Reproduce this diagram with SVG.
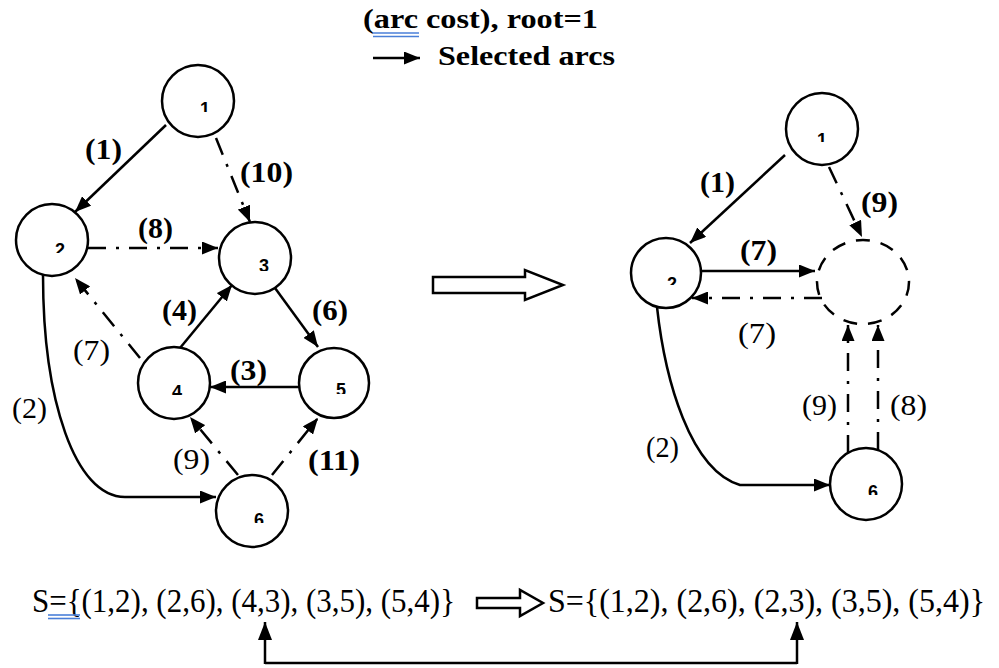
<svg xmlns="http://www.w3.org/2000/svg" width="999" height="668" viewBox="0 0 999 668">
<style>
.nd{fill:#fff;stroke:#000;stroke-width:2.5}
.dn{fill:none;stroke:#000;stroke-width:2.5;stroke-dasharray:14 11}
.s{fill:none;stroke:#000;stroke-width:2.5;marker-end:url(#ah)}
.d{fill:none;stroke:#000;stroke-width:2.5;stroke-dasharray:18 10 3 10;marker-end:url(#ah)}
.lb{font-family:"Liberation Serif",serif;font-size:29px;font-weight:bold;fill:#000}
.ln{font-family:"Liberation Serif",serif;font-size:29px;font-weight:normal;fill:#000}
.nl{font-family:"Liberation Sans",sans-serif;font-size:18px;font-weight:bold;fill:#000;text-anchor:middle}
.tt{font-family:"Liberation Serif",serif;font-size:28px;font-weight:bold;fill:#000}
.st{font-family:"Liberation Serif",serif;font-size:33px;fill:#000}
.ho{fill:#fff;stroke:#000;stroke-width:2.5}
.bl{stroke:#4a7fd8;stroke-width:1.6}
</style>
<defs>
<marker id="ah" markerUnits="userSpaceOnUse" markerWidth="16" markerHeight="13" refX="16" refY="6.5" orient="auto"><path d="M0,0 L16,6.5 L0,13 z" fill="#000"/></marker>
<marker id="ab" markerUnits="userSpaceOnUse" markerWidth="18" markerHeight="14" refX="18" refY="7" orient="auto"><path d="M0,0 L18,7 L0,14 z" fill="#000"/></marker>
<clipPath id="k1"><rect x="190" y="100" width="30" height="12"/></clipPath>
<clipPath id="k2"><rect x="45" y="241" width="30" height="12"/></clipPath>
<clipPath id="k3"><rect x="248" y="257" width="30" height="14"/></clipPath>
<clipPath id="k4"><rect x="162" y="383" width="30" height="12"/></clipPath>
<clipPath id="k5"><rect x="326" y="381" width="30" height="13"/></clipPath>
<clipPath id="k6"><rect x="244" y="511" width="30" height="12"/></clipPath>
<clipPath id="r1"><rect x="807" y="131" width="30" height="11"/></clipPath>
<clipPath id="r2"><rect x="657" y="275" width="30" height="10"/></clipPath>
<clipPath id="r6"><rect x="858" y="483" width="30" height="12"/></clipPath>
</defs>
<rect width="999" height="668" fill="#fff"/>

<g id="legend">
<text class="tt" x="363" y="28" textLength="235" lengthAdjust="spacingAndGlyphs">(arc cost), root=1</text>
<line class="bl" x1="373" y1="33" x2="419" y2="33"/>
<line class="bl" x1="373" y1="36.5" x2="419" y2="36.5"/>
<line x1="373" y1="58" x2="420" y2="58" stroke="#000" stroke-width="2.5" marker-end="url(#ah)"/>
<text class="tt" x="438" y="65" textLength="177" lengthAdjust="spacingAndGlyphs">Selected arcs</text>
</g>

<g id="connectors">
<path class="s" d="M166,125 L75,212"/>
<path class="d" d="M216,138 L250,222"/>
<path class="d" d="M88,248 L218,248"/>
<path class="d" d="M140,358 L75,278"/>
<path class="s" d="M180,348 L232,285"/>
<path class="s" d="M275,288 L318,347"/>
<path class="s" d="M300,387 L210,387"/>
<path class="d" d="M238,475 L190,417"/>
<path class="d" d="M272,475 L318,418"/>
<path class="s" d="M43,275 C43,400 75,497 125,497 L216,497"/>

<path class="s" d="M785,155 L690,243"/>
<path class="d" d="M829,167 L862,237"/>
<path class="s" d="M701,271 L815,271"/>
<path class="d" d="M822,298 L692,298"/>
<path class="d" d="M848,453 L848,325"/>
<path class="d" d="M878,450 L878,325"/>
<path class="s" d="M657,307 C665,380 690,470 740,485 L830,485"/>

<path d="M265,663 L797,663" fill="none" stroke="#000" stroke-width="2.5"/>
<path d="M265,664 L265,622" fill="none" stroke="#000" stroke-width="2.5" marker-end="url(#ab)"/>
<path d="M797,664 L797,622" fill="none" stroke="#000" stroke-width="2.5" marker-end="url(#ab)"/>
</g>

<g id="edge-labels">
<text class="lb" x="85" y="159" textLength="37" lengthAdjust="spacingAndGlyphs">(1)</text>
<text class="lb" x="240" y="182" textLength="53" lengthAdjust="spacingAndGlyphs">(10)</text>
<text class="lb" x="138" y="238" textLength="35" lengthAdjust="spacingAndGlyphs">(8)</text>
<text class="lb" x="162" y="320" textLength="35" lengthAdjust="spacingAndGlyphs">(4)</text>
<text class="lb" x="312" y="320" textLength="36" lengthAdjust="spacingAndGlyphs">(6)</text>
<text class="ln" x="73" y="360" textLength="37" lengthAdjust="spacingAndGlyphs">(7)</text>
<text class="lb" x="230" y="380" textLength="37" lengthAdjust="spacingAndGlyphs">(3)</text>
<text class="ln" x="12" y="418" textLength="35" lengthAdjust="spacingAndGlyphs">(2)</text>
<text class="ln" x="173" y="469" textLength="37" lengthAdjust="spacingAndGlyphs">(9)</text>
<text class="lb" x="308" y="470" textLength="52" lengthAdjust="spacingAndGlyphs">(11)</text>

<text class="lb" x="700" y="192" textLength="35" lengthAdjust="spacingAndGlyphs">(1)</text>
<text class="lb" x="861" y="212" textLength="37" lengthAdjust="spacingAndGlyphs">(9)</text>
<text class="lb" x="740" y="260" textLength="37" lengthAdjust="spacingAndGlyphs">(7)</text>
<text class="ln" x="738" y="343" textLength="38" lengthAdjust="spacingAndGlyphs">(7)</text>
<text class="ln" x="802" y="415" textLength="35" lengthAdjust="spacingAndGlyphs">(9)</text>
<text class="ln" x="890" y="415" textLength="37" lengthAdjust="spacingAndGlyphs">(8)</text>
<text class="ln" x="646" y="457" textLength="33" lengthAdjust="spacingAndGlyphs">(2)</text>
</g>

<g id="n1"><circle class="nd" cx="198" cy="101" r="36"/><text class="nl" x="205" y="115" clip-path="url(#k1)">1</text></g>
<g id="n2"><circle class="nd" cx="52" cy="240" r="36"/><text class="nl" x="60" y="256" clip-path="url(#k2)">2</text></g>
<g id="n3"><circle class="nd" cx="255" cy="258" r="36"/><text class="nl" x="264" y="272" clip-path="url(#k3)">3</text></g>
<g id="n4"><circle class="nd" cx="174" cy="383" r="36"/><text class="nl" x="177" y="398" clip-path="url(#k4)">4</text></g>
<g id="n5"><circle class="nd" cx="334" cy="383" r="35"/><text class="nl" x="341" y="396" clip-path="url(#k5)">5</text></g>
<g id="n6"><circle class="nd" cx="252" cy="511" r="36"/><text class="nl" x="259" y="526" clip-path="url(#k6)">6</text></g>

<g id="r-n1"><circle class="nd" cx="822" cy="129" r="36"/><text class="nl" x="822" y="146" clip-path="url(#r1)">1</text></g>
<g id="r-n2"><circle class="nd" cx="666" cy="273" r="35"/><text class="nl" x="672" y="290" clip-path="url(#r2)">2</text></g>
<g id="r-n3"><ellipse class="dn" cx="863" cy="282" rx="46" ry="42"/></g>
<g id="r-n6"><circle class="nd" cx="866" cy="484" r="36"/><text class="nl" x="873" y="498" clip-path="url(#r6)">6</text></g>

<g id="transform-arrow"><polygon class="ho" points="433,277 525,277 525,270 563,285 525,300 525,293 433,293"/></g>

<g id="sets">
<text class="st" x="32" y="612" textLength="423" lengthAdjust="spacingAndGlyphs">S={(1,2), (2,6), (4,3), (3,5), (5,4)}</text>
<line class="bl" x1="48" y1="615" x2="80" y2="615"/>
<line class="bl" x1="48" y1="618.5" x2="80" y2="618.5"/>
<polygon class="ho" points="477,598 520,598 520,590 543,603 520,616 520,608 477,608"/>
<text class="st" x="548" y="612" textLength="437" lengthAdjust="spacingAndGlyphs">S={(1,2), (2,6), (2,3), (3,5), (5,4)}</text>
</g>
</svg>
